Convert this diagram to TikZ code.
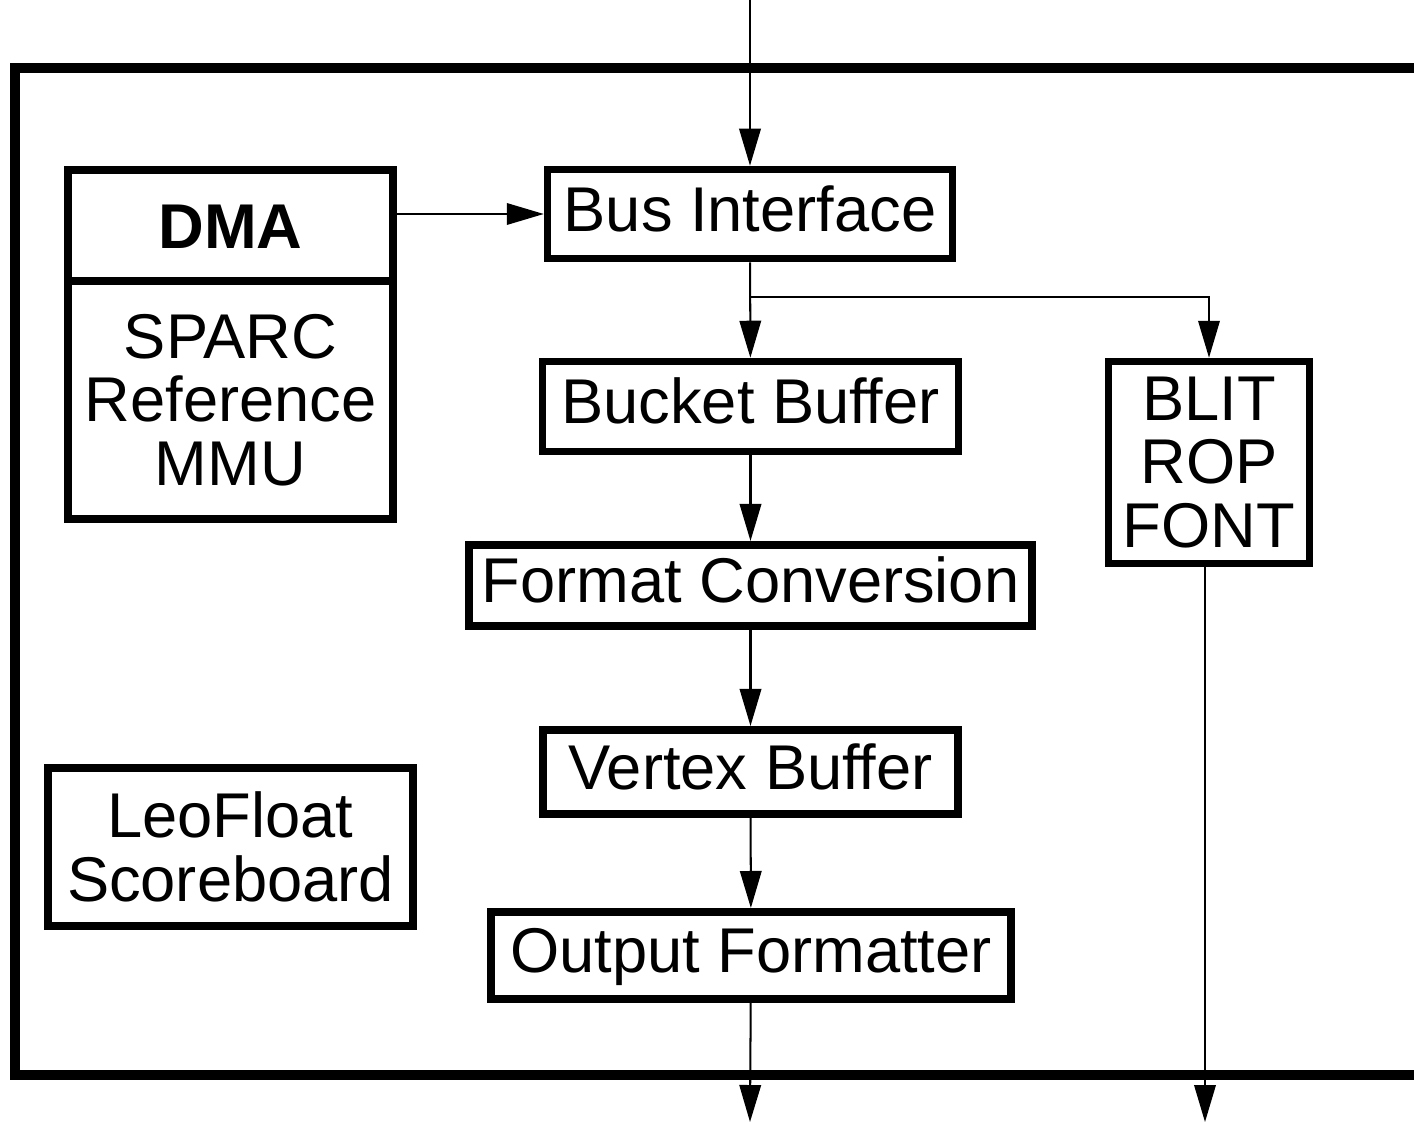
\documentclass[tikz,border=0pt]{standalone}
\usepackage{fontspec}
\setmainfont{Liberation Sans}
\usetikzlibrary{arrows.meta}
\begin{document}
\begin{tikzpicture}[x=0.02cm, y=-0.02cm,
    blk/.style={draw, line width=4.3pt, inner sep=0pt, align=center,
                font=\fontsize{36}{36}\selectfont},
    oneline/.style={text height=25.8pt, text depth=6.4pt},
    wire/.style={line width=1.15pt},
    flow/.style={wire, -{Triangle[length=0.74cm, width=0.43cm]}}]
      \clip (0, 0) rectangle (1414, 1122);
      % outer board, open to the right
      \draw[line width=6pt] (15, 68) rectangle (1460, 1075);
      \node (dma) [blk, text height=25.8pt, text depth=0pt, minimum width=6.51cm, minimum height=2.225cm,
                   font=\fontsize{36}{36}\selectfont\bfseries] at (230.5, 225.4) {DMA};
      \node (mmu) [blk, minimum width=6.51cm, minimum height=4.765cm] at (230.5, 400.1)
            {SPARC\\Reference\\MMU};
      \node (leo) [blk, minimum width=7.31cm, minimum height=3.17cm] at (230.5, 847)
            {LeoFloat\\Scoreboard};
      \node (bus) [blk, oneline, minimum width=8.1cm, minimum height=1.78cm] at (750, 214) {Bus Interface};
      \node (bucket) [blk, oneline, minimum width=8.32cm, minimum height=1.8cm] at (750.5, 406.5) {Bucket Buffer};
      \node (fmt) [blk, oneline, minimum width=11.27cm, minimum height=1.63cm] at (750.5, 585.5) {Format Conversion};
      \node (vtx) [blk, oneline, minimum width=8.31cm, minimum height=1.69cm] at (750.5, 772) {Vertex Buffer};
      \node (outf) [blk, oneline, minimum width=10.41cm, minimum height=1.75cm] at (751, 955.5) {Output Formatter};
      \node (blit) [blk, minimum width=4.02cm, minimum height=4.04cm] at (1209, 462.5) {BLIT\\ROP\\FONT};
      \coordinate (busin) at (750, 0);
      \coordinate (split) at (750, 297);
      \coordinate (out) at (750, 1122);
      \coordinate (blitout) at (1205, 1122);
      \draw[flow] (busin) -- (bus);
      \draw[flow] (bus.west -| dma.east) -- (bus.west);
      \draw[flow] (bus) -- (bucket);
      \draw[flow] (split) -| (blit.north);
      \draw[flow] (bucket) -- (fmt);
      \draw[flow] (fmt) -- (vtx);
      \draw[flow] (vtx) -- (outf);
      \draw[flow] (outf) -- (out);
      \draw[flow] (blit.south -| blitout) -- (blitout);
\end{tikzpicture}
\end{document}
